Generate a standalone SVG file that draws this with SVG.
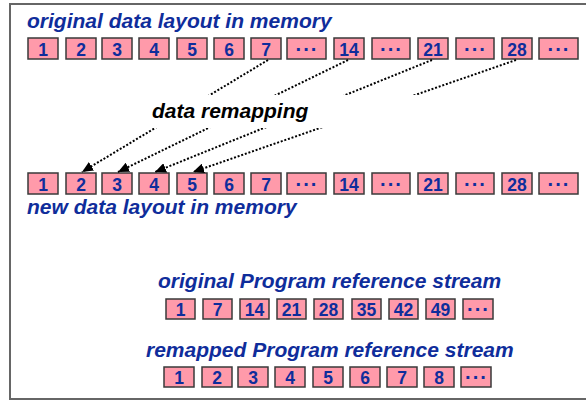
<svg xmlns="http://www.w3.org/2000/svg" width="586" height="401" viewBox="0 0 586 401">
  <style>
    .frame { fill: #ffffff; stroke: #666666; stroke-width: 2; }
    .cell rect { fill: #ff9aaa; stroke: #3a3a3a; stroke-width: 1.5; }
    .cell text { font-family: "Liberation Sans", Arial, sans-serif; font-weight: bold; font-size: 17.5px; fill: #0f2d9b; text-anchor: middle; }
    .cell text.dots { font-size: 20px; letter-spacing: 1px; }
    .title { font-family: "Liberation Sans", Arial, sans-serif; font-weight: bold; font-style: italic; font-size: 21px; fill: #0f2d9b; }
    .label { font-family: "Liberation Sans", Arial, sans-serif; font-weight: bold; font-style: italic; font-size: 21px; fill: #000000; }
    .link { fill: none; stroke: #000000; stroke-width: 2; stroke-dasharray: 2 1.8; marker-end: url(#head); }
  </style>
  <defs>
    <marker id="head" markerUnits="userSpaceOnUse" markerWidth="11" markerHeight="10" refX="11" refY="5" orient="auto">
      <path d="M0,0 L11,5 L0,10 z" fill="#000000" stroke="none"/>
    </marker>
  </defs>

  <!-- outer panel -->
  <rect class="frame" x="10" y="4" width="600" height="395"/>

  <!-- headings -->
  <text class="title" x="27" y="28">original data layout in memory</text>
  <text class="title" x="27" y="214">new data layout in memory</text>
  <text class="title" x="158" y="288">original Program reference stream</text>
  <text class="title" x="146" y="357">remapped Program reference stream</text>

  <!-- original layout row -->
  <g id="orig-1" class="cell"><rect x="28" y="38" width="30" height="21"/><text x="43" y="55.5">1</text></g>
  <g id="orig-2" class="cell"><rect x="66" y="38" width="30" height="21"/><text x="81" y="55.5">2</text></g>
  <g id="orig-3" class="cell"><rect x="102" y="38" width="30" height="21"/><text x="117" y="55.5">3</text></g>
  <g id="orig-4" class="cell"><rect x="139" y="38" width="30" height="21"/><text x="154" y="55.5">4</text></g>
  <g id="orig-5" class="cell"><rect x="177" y="38" width="30" height="21"/><text x="192" y="55.5">5</text></g>
  <g id="orig-6" class="cell"><rect x="214" y="38" width="30" height="21"/><text x="229" y="55.5">6</text></g>
  <g id="orig-7" class="cell"><rect x="251" y="38" width="30" height="21"/><text x="266" y="55.5">7</text></g>
  <g id="orig-gap1" class="cell"><rect x="287" y="38" width="39" height="21"/><text class="dots" x="307" y="55.5">···</text></g>
  <g id="orig-14" class="cell"><rect x="334" y="38" width="30" height="21"/><text x="349" y="55.5">14</text></g>
  <g id="orig-gap2" class="cell"><rect x="372" y="38" width="38" height="21"/><text class="dots" x="391.5" y="55.5">···</text></g>
  <g id="orig-21" class="cell"><rect x="418" y="38" width="30" height="21"/><text x="433" y="55.5">21</text></g>
  <g id="orig-gap3" class="cell"><rect x="456" y="38" width="38" height="21"/><text class="dots" x="475.5" y="55.5">···</text></g>
  <g id="orig-28" class="cell"><rect x="502" y="38" width="30" height="21"/><text x="517" y="55.5">28</text></g>
  <g id="orig-gap4" class="cell"><rect x="539" y="38" width="39" height="21"/><text class="dots" x="559" y="55.5">···</text></g>

  <!-- new layout row -->
  <g id="new-1" class="cell"><rect x="28" y="173" width="30" height="21"/><text x="43" y="190.5">1</text></g>
  <g id="new-2" class="cell"><rect x="66" y="173" width="30" height="21"/><text x="81" y="190.5">2</text></g>
  <g id="new-3" class="cell"><rect x="102" y="173" width="30" height="21"/><text x="117" y="190.5">3</text></g>
  <g id="new-4" class="cell"><rect x="139" y="173" width="30" height="21"/><text x="154" y="190.5">4</text></g>
  <g id="new-5" class="cell"><rect x="177" y="173" width="30" height="21"/><text x="192" y="190.5">5</text></g>
  <g id="new-6" class="cell"><rect x="214" y="173" width="30" height="21"/><text x="229" y="190.5">6</text></g>
  <g id="new-7" class="cell"><rect x="251" y="173" width="30" height="21"/><text x="266" y="190.5">7</text></g>
  <g id="new-gap1" class="cell"><rect x="287" y="173" width="39" height="21"/><text class="dots" x="307" y="190.5">···</text></g>
  <g id="new-14" class="cell"><rect x="334" y="173" width="30" height="21"/><text x="349" y="190.5">14</text></g>
  <g id="new-gap2" class="cell"><rect x="372" y="173" width="38" height="21"/><text class="dots" x="391.5" y="190.5">···</text></g>
  <g id="new-21" class="cell"><rect x="418" y="173" width="30" height="21"/><text x="433" y="190.5">21</text></g>
  <g id="new-gap3" class="cell"><rect x="456" y="173" width="38" height="21"/><text class="dots" x="475.5" y="190.5">···</text></g>
  <g id="new-28" class="cell"><rect x="502" y="173" width="30" height="21"/><text x="517" y="190.5">28</text></g>
  <g id="new-gap4" class="cell"><rect x="539" y="173" width="39" height="21"/><text class="dots" x="559" y="190.5">···</text></g>

  <!-- remapping connectors -->
  <g id="connectors">
    <line class="link" x1="268" y1="60" x2="82" y2="172"/>
    <line class="link" x1="348" y1="60" x2="118" y2="172"/>
    <line class="link" x1="432" y1="60" x2="155" y2="172"/>
    <line class="link" x1="516" y1="60" x2="193" y2="172"/>
  </g>

  <!-- caption box over the connectors -->
  <g id="remap-label">
    <rect x="140" y="95" width="290" height="33" fill="#ffffff"/>
    <text class="label" x="152" y="118">data remapping</text>
  </g>

  <!-- original reference stream -->
  <g id="ref-1" class="cell"><rect x="166" y="299" width="29" height="20"/><text x="180.5" y="316">1</text></g>
  <g id="ref-7" class="cell"><rect x="203" y="299" width="29" height="20"/><text x="217.5" y="316">7</text></g>
  <g id="ref-14" class="cell"><rect x="240" y="299" width="29" height="20"/><text x="254.5" y="316">14</text></g>
  <g id="ref-21" class="cell"><rect x="277" y="299" width="29" height="20"/><text x="291.5" y="316">21</text></g>
  <g id="ref-28" class="cell"><rect x="314" y="299" width="29" height="20"/><text x="328.5" y="316">28</text></g>
  <g id="ref-35" class="cell"><rect x="352" y="299" width="29" height="20"/><text x="366.5" y="316">35</text></g>
  <g id="ref-42" class="cell"><rect x="389" y="299" width="29" height="20"/><text x="403.5" y="316">42</text></g>
  <g id="ref-49" class="cell"><rect x="426" y="299" width="29" height="20"/><text x="440.5" y="316">49</text></g>
  <g id="ref-more" class="cell"><rect x="463" y="299" width="30" height="20"/><text class="dots" x="478.5" y="315.5">···</text></g>

  <!-- remapped reference stream -->
  <g id="rmp-1" class="cell"><rect x="164" y="367" width="30" height="20"/><text x="179" y="384">1</text></g>
  <g id="rmp-2" class="cell"><rect x="202" y="367" width="30" height="20"/><text x="217" y="384">2</text></g>
  <g id="rmp-3" class="cell"><rect x="238" y="367" width="30" height="20"/><text x="253" y="384">3</text></g>
  <g id="rmp-4" class="cell"><rect x="275" y="367" width="30" height="20"/><text x="290" y="384">4</text></g>
  <g id="rmp-5" class="cell"><rect x="313" y="367" width="30" height="20"/><text x="328" y="384">5</text></g>
  <g id="rmp-6" class="cell"><rect x="350" y="367" width="30" height="20"/><text x="365" y="384">6</text></g>
  <g id="rmp-7" class="cell"><rect x="387" y="367" width="30" height="20"/><text x="402" y="384">7</text></g>
  <g id="rmp-8" class="cell"><rect x="424" y="367" width="30" height="20"/><text x="439" y="384">8</text></g>
  <g id="rmp-more" class="cell"><rect x="461" y="367" width="30" height="20"/><text class="dots" x="476.5" y="383.5">···</text></g>
</svg>
